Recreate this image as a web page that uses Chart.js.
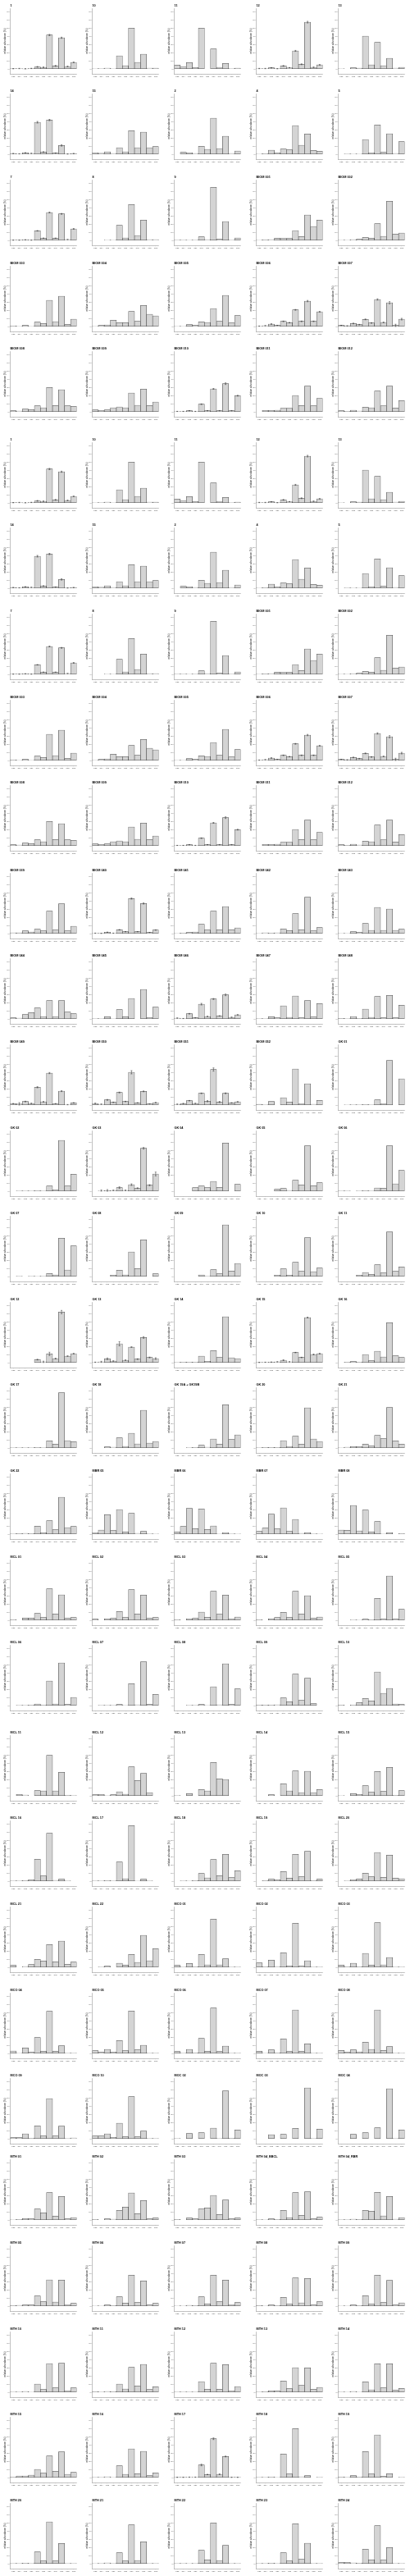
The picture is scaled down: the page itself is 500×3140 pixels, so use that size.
<!DOCTYPE html>
<html><head><meta charset="utf-8">
<script src="https://cdn.jsdelivr.net/npm/chart.js@4.4.1/dist/chart.umd.min.js"></script>
<style>
html,body{margin:0;padding:0;background:#fff;}
#grid{position:relative;width:500px;height:3140px;overflow:hidden;}
#grid canvas{position:absolute;}
</style></head><body><div id="grid"></div>
<script>
const categories = ['C23','C24','C25','C26','C27','C28','C29','C30','C31','C32','C33'];
const yTicks = [0,10,20,30,40,50,60,70];
const yAxisTitle = 'relative abundance (%)';

const namesNum = ['1','10','11','12','13','14','15','2','4','5','7','8','9'];
const valuesNum = [
 [0.3,0.5,0.2,0.6,2.5,2,41.3,3.7,38,3,8],
 [0.5,0.3,1,0.5,16,4,49.7,8,18,1,0.8],
 [4.7,3,7.7,1.7,49.7,0,24.3,2,6.7,0.3,0.8],
 [0.5,0.5,1.3,0.3,3.7,1.5,22,5.7,57,2,5],
 [0.5,0,1.3,0.8,40,5,32.3,4,13,1,2],
 [0.8,0.5,1.7,1,39,2.7,41.7,1.3,10.7,0.3,0.8],
 [2,1.2,3,1,8,3,28.7,8,27,8,9.3],
 [0,2.3,2,1,9.7,6,44,7,22,1,4],
 [0.5,0.7,5,1.7,6.3,5.3,35,11,24.7,4.7,3.7],
 [0,0.3,0.5,0.5,18,2,35.7,2.3,25,1,15.3],
 [0.3,0.3,0.7,0.3,11.7,2.7,34,2.7,32.3,1,14],
 [0,0,0.5,0.5,18.3,3,43.7,6,24.7,1,1],
 [0.3,0.3,0.5,0.3,4.3,1,64.7,1.3,23,0.3,3]
];
const errorsNum = [
 [0.2,0.2,0.1,0.2,0.5,0.3,0.8,0.6,0.7,0.4,0.3], null, null,
 [0.2,0.2,0.3,0.1,0.5,0.2,0.6,0.5,1,0.3,0.3], null,
 [0.2,0.1,0.3,0.2,1,0.4,0.8,0.3,0.8,0.1,0.2], null, null, null, null,
 [0.1,0.1,0.1,0.1,0.3,0.2,0.5,0.2,0.5,0.1,0.5], null, null
];

const namesBiomA = ['BIOM 001','BIOM 002','BIOM 003','BIOM 004','BIOM 005','BIOM 006','BIOM 007','BIOM 008','BIOM 009','BIOM 010','BIOM 011','BIOM 012'];
const valuesBiomA = [
 [0.5,0.7,1,2.7,2.5,2.3,12,4.7,31,17,24.7],
 [0.5,0.5,1,1.3,3.7,2.7,20.3,5,47.7,7.7,9],
 [0.7,0.5,1.3,0.5,5.3,3.7,32,6,37,2.7,9],
 [0.5,1.3,2,7.7,4.7,4.7,18.3,6.3,25.7,15,13],
 [0.5,0.5,2.3,1.3,5.7,5,22,6.3,38,4.3,13.3],
 [0.5,1,3,1.3,6.3,4.7,20.3,6.3,31,6.3,18],
 [1.3,0.8,3.7,2.3,8.7,4.3,33,5,29,1.3,9],
 [1.3,1,3.3,2.7,7.3,5,29.7,7.7,27,7.3,6.7],
 [2.3,1.7,2.3,5,6,5,23,8,27.7,7.7,12],
 [0.5,0.5,1.3,0.5,9.3,1.3,28,1.3,34.3,1.3,19.7],
 [0,1.7,1.7,2,4.5,4.5,20,7.7,31.3,7.3,16.5],
 [1.3,0.7,2,1,5.7,5,25.3,7.5,31.3,4.7,13.7]
];
const errorsBiomA = [null,null,null,null,null,
 [0.1,0.2,0.4,0.2,0.4,0.3,0.5,0.4,0.8,0.4,0.4],
 [0.2,0.2,0.5,0.3,0.5,0.4,0.8,0.4,1.3,1.5,1],
 null,null,
 [0.1,0.1,0.2,0.1,0.4,0.2,0.5,0.3,1,0.3,0.5],
 null,null];

const namesBiomB = ['BIOM 039','BIOM 040','BIOM 041','BIOM 042','BIOM 043','BIOM 044','BIOM 045','BIOM 046','BIOM 047','BIOM 048','BIOM 049','BIOM 050','BIOM 051','BIOM 052'];
const valuesBiomB = [
 [1,0.8,3.3,2,5.3,3.3,27.3,4.3,36.3,3.3,9],
 [0.5,0.3,1.7,0.5,4.7,2.3,42.7,2.3,36.7,1.3,4.3],
 [0.5,0.7,1.3,2,11.3,4.3,27.3,4.7,33,4.7,7],
 [0.5,1,0.7,1,5.7,3.7,24.3,4.7,44.3,3.3,7.3],
 [0.5,0.5,2.3,1.3,12.3,4,32,4,30,4,5.3],
 [1.3,1,5.3,7.7,13.3,3,22.3,3,22.3,8.3,6.3],
 [0.3,0.3,2.7,0.5,11.3,2.7,25,0,36,1.7,14.3],
 [1,0.5,6.3,1.3,18,3,24.3,3.7,29.3,2,5],
 [0.3,0.3,2.7,1.3,16,2,28,1.3,22.3,2.3,18.7],
 [0.7,0.3,3,0.7,12,2,27.3,1.3,28.7,1.3,16.7],
 [1.7,1.5,4.3,2,21.7,4,39,1.7,17,0.5,2.7],
 [2,1,6.3,3.3,15.3,4.3,40,2.7,16.7,1.3,3],
 [1,1.7,5.3,2,14.3,4.7,43.3,3.7,14.3,2.7,4],
 [0.8,0.3,4.3,0,9,3.7,44,2,26,1,5.7]
];
const errorsBiomB = [null,
 [0.1,0.1,0.2,0.1,0.3,0.2,0.7,0.2,0.7,0.2,0.2],
 null,null,null,null,null,
 [0.2,0.1,0.4,0.2,1,0.3,0.6,0.3,1,0.2,0.3],
 null,null,
 [0.3,1.5,0.4,0.3,0.7,0.3,0.7,0.2,0.6,0.2,0.3],
 [0.3,0.3,0.5,0.3,0.5,0.3,2,0.3,0.5,0.2,0.3],
 [0.2,0.5,0.3,0.2,0.4,0.7,2,0.7,0.5,0.3,0.2],
 null];

const namesGk = ['GK 01','GK 02','GK 03','GK 04','GK 05','GK 06','GK 07','GK 08','GK 09','GK 10','GK 11','GK 12','GK 13','GK 14','GK 15','GK 16','GK 17','GK 18','GK 19A + GK19B','GK 20','GK 21','GK 22'];
const valuesGk = [
 [0,0.5,0.3,0.3,0.7,0.3,6.3,2,54.3,0,32],
 [0,0.3,0.3,0.3,0.7,0.3,6.3,1.7,62,6.3,20.7],
 [0,0.5,0.7,1,4.3,1,8,3.7,52.3,7.3,21],
 [0,0,0,4.3,6.3,4.3,12,4.7,58.7,0,8.3],
 [0,0,0,2.3,3.3,1,13.3,7.7,55.3,6.7,10.3],
 [0.3,0.3,0,0.3,0.7,0.3,4,3.7,55.3,9,25.3],
 [0,0.3,0,0.3,0.5,0.3,3.7,2,46.7,8,37.3],
 [0,0,0,1.7,7.7,2,30,9.7,44.7,0,3.3],
 [0,0,0,0,2,0.3,8.3,3.3,63,6.7,16],
 [0,0,0,1.7,9.3,1.7,17.3,6.3,47.3,6,10.3],
 [0,0,0,1.7,5,2.7,14.3,4.3,54.3,6.3,11.7],
 [0,0,0,0,3.7,1,10.7,5,61.7,8,11],
 [0.5,1,4.7,2,23,3,19,4.3,30.7,6.3,5],
 [0.3,0.7,0.7,0.7,8,1.7,14.7,6.3,56,6,5],
 [0.3,0.5,0.7,1,3,1,12.3,6.3,55,10,11],
 [0,0.7,1.3,0.7,10,2.3,14,7,48.7,8.3,6.3],
 [0.3,0.3,0.3,0.3,0.7,0.3,8.7,4.7,67.3,9,7.7],
 [0,0,1.3,1,12.3,2,18,5,46,6,8],
 [0,0,0.3,0.7,3.3,1,11,4.7,52.7,10.3,16],
 [0.3,0.7,0.7,0.7,9,2,14.3,4.7,49,11,8],
 [0.5,1,1.7,1.7,4.7,2.3,15.3,11.3,49.3,8.7,4.7],
 [0.3,0.7,1,0.7,9.7,1.7,16.3,5.3,45,8,9.3]
];
const errorsGk = [null,null,
 [0,1,1.3,0.3,1,0.3,1,0.5,1,0.7,2.3],
 null,null,null,null,null,null,null,null,
 [0,0,0,0,0.5,0.8,2,0.5,2,0.3,0.3],
 [0.2,0.7,1,0.3,2.5,0.3,0.3,0.5,1,0.5,1],
 null,
 [0.1,0.1,0.1,0.2,0.5,0.2,0.3,0.3,0.5,0.5,0.5],
 null,null,null,null,null,null,null];

const namesMbr = ['MBR 05','MBR 06','MBR 07','MBR 08'];
const valuesMbr = [
 [2,5,23.7,4.3,30,2.7,25.3,1,3.3,0.3,0.5],
 [2.7,9.3,31.3,6.7,30.7,5.7,10,0.5,2,0.3,0.5],
 [3.3,7.3,24.3,6.3,32,3.3,18,1,1.7,0.3,0.5],
 [5,4.7,35,4,29.3,2.7,15.3,0.5,1.7,0,0.7]
];

const namesMcl = ['MCL 01','MCL 02','MCL 03','MCL 04','MCL 05','MCL 06','MCL 07','MCL 08','MCL 09','MCL 10','MCL 11','MCL 12','MCL 13','MCL 14','MCL 15','MCL 16','MCL 17','MCL 18','MCL 19','MCL 20','MCL 21','MCL 22'];
const valuesMcl = [
 [0.7,0,2.7,2.7,8.3,3.3,38.3,7.7,31,2.3,3.3],
 [1.3,0,1.7,2.3,10.7,3.3,37.3,7.7,30.7,2.3,3.3],
 [0.7,0,2,2.3,10,3.7,35.3,7.3,30.7,2,4],
 [0.7,0,1.7,3.3,9.7,3.3,35.3,7.7,30,2.3,4],
 [0,0,0.3,0.5,1.3,0.7,26.7,1.3,54,1.3,13.3],
 [0,0.3,0.3,0.7,2,0.7,30,2,52,1.3,10],
 [0,0.3,0.3,0.3,1.3,0.5,26.7,1,53.3,1.3,13.7],
 [0,0,0.3,0.3,1.3,0.5,23,1,51,1.3,20.3],
 [0.7,0.7,0.7,1,9.3,4.7,38.3,6.3,33.3,2.3,0],
 [0.7,0,0.7,3.7,8.7,5.7,41,15,21,2,1.3],
 [0,1.7,1,0,6.3,6,49.3,6,28.7,0.7,0.3],
 [1.3,1.7,0.5,1.3,5,2,35.3,18.7,27.3,4,0],
 [0.3,0,2.7,0,7.7,6,40.7,20.7,20,0,0],
 [0,0,1.3,0,14.7,6,30.3,4,30,4,7.7],
 [0.5,0,2.7,1.7,12.3,4.3,29.7,5.3,34.7,0.7,6.3],
 [0.3,0.3,0.7,1.7,26.7,6.3,58.3,1,2.3,0.3,0],
 [0.3,0.3,0.7,0.3,23.3,3,67.7,0.5,2.3,0.3,0],
 [0,0.3,0.5,0.7,9.3,4,26.3,6.7,32.7,4.3,12.7],
 [0,0.7,2.3,1.7,11.7,3.7,32.7,5.3,36.3,0.7,2.3],
 [0,0.3,2,2.7,9.7,5.3,35,4.7,31.7,3.7,3],
 [2.3,0,1,3.3,9.7,7.7,27.7,6.7,32,3.7,6.3],
 [0,0.3,1.3,0,5,2.7,15.7,6,39,8,22.7]
];

const namesMco = ['MCO 01','MCO 02','MCO 03','MCO 04','MCO 05','MCO 06','MCO 07','MCO 08','MCO 09','MCO 10'];
const valuesMco = [
 [2.3,0.3,4.7,0.7,15.7,3,58.7,3,10.3,0.3,0.3],
 [5.3,0.7,8.7,1,17.7,1.7,53.7,1.3,8,0.3,0.3],
 [2.7,0.7,5,0.7,17,2.7,54.3,3,12,0.3,0.3],
 [3,0.5,6.7,1.3,19.3,2.7,51.3,2.7,9.3,0.3,0.3],
 [3.3,1.3,5,1.7,15.7,3.3,51.7,4.3,10,0.3,0.3],
 [2.3,0.3,5,0.7,18.3,2.7,55.3,2.3,9,0.3,0.3],
 [2.7,0.5,4.3,0.7,17.7,2.3,53,2.7,11.7,0.3,0.3],
 [3.7,1.7,4.3,2,13.7,5,53,3.7,8.3,0.3,0.3],
 [1.3,1.3,6,0.7,15.7,3.3,49,3.3,15.3,0.3,1],
 [3.3,3.3,6,1.7,19,2.3,51.3,2.3,9.3,0.3,0.3]
];

const namesMoc = ['MOC 02','MOC 03','MOC 04'];
const valuesMoc = [
 [0.3,0,6.3,0,7.3,0,13,0.3,58.3,0.7,10.7],
 [0,0,5,0,5.3,0,12.7,0,62,0.3,11.7],
 [0,0,5.3,0,7.3,0,13.3,0,61,0.3,10.7]
];

const namesMth = ['MTH 01','MTH 02','MTH 03','MTH 04_BBCL','MTH 04_RBR','MTH 05','MTH 06','MTH 07','MTH 08','MTH 09','MTH 10','MTH 11','MTH 12','MTH 13','MTH 14','MTH 15','MTH 16','MTH 17','MTH 18','MTH 19','MTH 20','MTH 21','MTH 22','MTH 23','MTH 24'];
const valuesMth = [
 [0.5,0.7,1.7,1.3,13.3,8.7,33.3,4.7,28.7,1.3,3],
 [0.7,0,1.3,1,11.7,15.7,33,7.7,23.7,1.3,2.3],
 [0.7,0,2.3,1.3,13.3,14.7,30,6.7,24.3,1.3,2.3],
 [0.3,0.5,1.3,0.7,11.7,3,33.3,5.7,34.3,1.3,3.3],
 [0.3,0.3,1,0.7,11.7,10.7,33.7,5,28.7,1,3],
 [0.7,1,1.3,1.3,12.3,5.3,32,5,31.7,2,3.3],
 [0.5,0.5,1.3,0.7,11.3,3.7,37.7,4.3,30.7,1.3,3.3],
 [0.5,0.5,1,0.7,11.3,2.7,37.7,5.3,31.7,2,4.3],
 [0.7,0.5,1.3,0.7,10.7,2.3,34.3,4,33.7,1.3,5.3],
 [0.5,0.5,1.3,0.7,12.7,2.3,37.7,4.3,31.3,1.3,4],
 [0.3,0.3,1,0.5,10,3.3,35,5.3,35.3,2,5.3],
 [0.7,0.3,1,0.7,10,4,30.3,7.7,34,3.3,6.7],
 [0.3,0.3,0.3,0.3,13,3.7,35.3,3.7,33.7,2,7],
 [0.3,0.7,1.7,1.3,13.7,4.3,30,8.3,29.7,3.7,6],
 [0.3,0.5,1,0.5,12.7,3,34.7,5.3,34.7,2.3,4.7],
 [0.7,2,2,3,10,5.3,26.3,7.7,31.3,4,6.3],
 [0.3,0.3,1,0.5,14.3,4,35,4.7,32,2.3,5.7],
 [0.3,0.3,0.5,0.5,15.3,3.7,47.3,4,25.7,0.3,0.3],
 [0.3,0.3,0.7,0.5,28.7,4.3,59.7,1,2.3,0,0.3],
 [0.7,0.3,2.3,0.7,31.7,4.3,52,1.3,4.7,0,0.3],
 [0.3,0.3,0.7,0.3,14.3,3.3,51,3.3,24.7,0.3,0.3],
 [0.5,0.3,1,0.3,13.3,3.3,47.3,4,26.7,0.3,0.3],
 [0.3,0.3,0.5,0.3,16.3,4.7,49.7,4,22.3,0.3,0.3],
 [0.3,0.3,0.7,0.3,13.3,3.3,48.7,5.3,25,0.3,0.3],
 [1.3,1.7,1,0.7,17.7,4.7,46.3,4.3,19.7,0.3,0.3]
];
const errorsMth = valuesMth.map((v, i) => i === 17 ? [0.1,0.1,0.1,0.1,1,0.3,1,0.5,0.5,0.1,0.1] : null);

// ---- assemble panels (pages of 5x5 plots) ----
function group(names, values, errors) {
  return names.map((n, i) => ({ name: n, values: values[i], errors: errors ? errors[i] : null }));
}
const pageA = [...group(namesNum, valuesNum, errorsNum), ...group(namesBiomA, valuesBiomA, errorsBiomA)];
const pageC = [...group(namesBiomB, valuesBiomB, errorsBiomB), ...group(namesGk, valuesGk, errorsGk).slice(0, 11)];
const pageD = [...group(namesGk, valuesGk, errorsGk).slice(11), ...group(namesMbr, valuesMbr), ...group(namesMcl, valuesMcl).slice(0, 10)];
const pageE = [...group(namesMcl, valuesMcl).slice(10), ...group(namesMco, valuesMco), ...group(namesMoc, valuesMoc)];
const pageF = group(namesMth, valuesMth, errorsMth);
const pages = [pageA, pageA, pageC, pageD, pageE, pageF];
const pageZeroOffset = [83.6, 89.4, 90.9, 90.7, 95.4, 89.5];

const FONT = '"Liberation Sans", Arial, sans-serif';
const PAGE_H = 3140 / 6, ROW_H = PAGE_H / 5;

const errorBarPlugin = {
  id: 'errbars',
  afterDatasetsDraw(chart) {
    const ds = chart.data.datasets[0];
    const errs = ds.errors;
    if (!errs) return;
    const meta = chart.getDatasetMeta(0);
    const ys = chart.scales.y;
    const ctx = chart.ctx;
    ctx.save();
    ctx.strokeStyle = '#333';
    ctx.lineWidth = 0.5;
    meta.data.forEach((bar, i) => {
      const e = errs[i];
      if (!e) return;
      const v = ds.data[i];
      const y1 = ys.getPixelForValue(Math.max(0, v - e));
      const y2 = ys.getPixelForValue(v + e);
      const x = bar.x, w = 1;
      ctx.beginPath();
      ctx.moveTo(x, y1); ctx.lineTo(x, y2);
      ctx.moveTo(x - w, y2); ctx.lineTo(x + w, y2);
      ctx.moveTo(x - w, y1); ctx.lineTo(x + w, y1);
      ctx.stroke();
    });
    ctx.restore();
  }
};

const grid = document.getElementById('grid');
pages.forEach((list, p) => {
  list.forEach((item, idx) => {
    const r = Math.floor(idx / 5), c = idx % 5;
    const cv = document.createElement('canvas');
    cv.width = 100; cv.height = 104;
    cv.style.width = '100px'; cv.style.height = '104px';
    cv.style.left = (c * 100) + 'px';
    cv.style.top = Math.round(p * PAGE_H + r * ROW_H + pageZeroOffset[p] - 89) + 'px';
    grid.appendChild(cv);
    new Chart(cv, {
      type: 'bar',
      data: {
        labels: categories,
        datasets: [{
          data: item.values,
          errors: item.errors,
          backgroundColor: '#d4d4d4',
          borderColor: '#4a4a4a',
          borderWidth: 0.6,
          borderSkipped: false,
          barPercentage: 1,
          categoryPercentage: 1
        }]
      },
      options: {
        responsive: false,
        animation: false,
        events: [],
        devicePixelRatio: 1,
        layout: { padding: { left: 0, right: 6.5, top: 0, bottom: 0 } },
        plugins: {
          legend: { display: false },
          tooltip: { enabled: false },
          title: {
            display: true, text: item.name, align: 'start', fullSize: false,
            color: '#000',
            font: { family: FONT, size: 3.8, weight: 'bold', lineHeight: 1.2 },
            padding: { top: 9.7, bottom: 0.74 }
          }
        },
        scales: {
          x: {
            grid: { display: true, drawOnChartArea: false, drawTicks: true, tickLength: 1.2, color: '#999', lineWidth: 0.5, offset: false },
            border: { display: true, color: '#999', width: 0.6 },
            ticks: { font: { family: FONT, size: 2.3 }, color: '#555', padding: 0.8, autoSkip: false, maxRotation: 0, minRotation: 0 },
            afterFit(s) { s.height = 9; }
          },
          y: {
            min: -6, max: 74,
            afterBuildTicks(s) { s.ticks = yTicks.map(v => ({ value: v })); },
            grid: { display: true, drawOnChartArea: false, drawTicks: true, tickLength: 1.2, color: '#999', lineWidth: 0.5 },
            border: { display: true, color: '#999', width: 0.6 },
            ticks: { font: { family: FONT, size: 2.3 }, color: '#555', padding: 0.6 },
            title: { display: true, text: yAxisTitle, color: '#222', font: { family: FONT, size: 3 }, padding: { top: 4.2, bottom: 0 } },
            afterFit(s) { s.width = 12.5; }
          }
        }
      },
      plugins: [errorBarPlugin]
    });
  });
});
</script></body></html>
